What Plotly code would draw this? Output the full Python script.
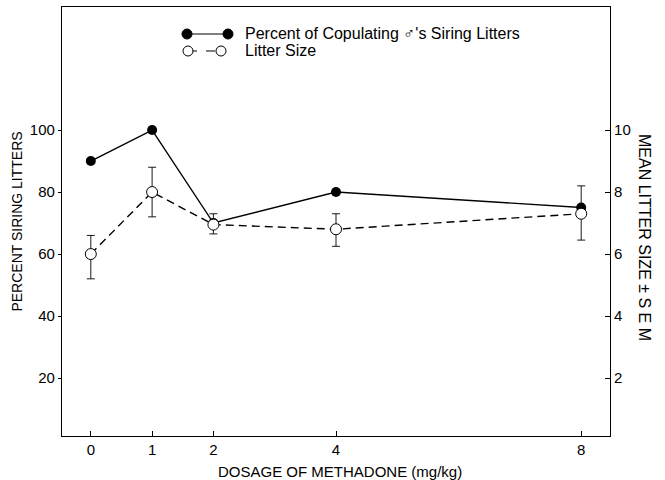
import plotly.graph_objects as go

dosage = [0, 1, 2, 4, 8]
percent_siring = [90, 100, 70, 80, 75]
litter_size = [6.0, 8.0, 6.95, 6.8, 7.3]
litter_err_plus = [0.6, 0.8, 0.35, 0.5, 0.9]
litter_err_minus = [0.8, 0.8, 0.3, 0.55, 0.85]

left_ticks = [20, 40, 60, 80, 100]
right_ticks = [2, 4, 6, 8, 10]
x_ticks = [0, 1, 2, 4, 8]

FONT = "Liberation Sans, Arial, Helvetica, sans-serif"
yr = [1.3, 139.7]

# plot area in page pixels
L, R, T, B = 62, 610, 7, 436
PW, PH = R - L, B - T

def px(x):
    return (x - L) / PW

def py(y):
    return (B - y) / PH

fig = go.Figure()

fig.add_trace(go.Scatter(
    x=dosage, y=litter_size, yaxis="y2", mode="lines+markers",
    line=dict(color="black", width=1.4, dash="8px,5px"),
    marker=dict(symbol="circle", size=11, color="white", line=dict(color="black", width=1)),
    error_y=dict(type="data", symmetric=False, array=litter_err_plus, arrayminus=litter_err_minus,
                 color="black", thickness=0.9, width=4),
    showlegend=False, cliponaxis=False,
))
fig.add_trace(go.Scatter(
    x=dosage, y=percent_siring, mode="lines+markers",
    line=dict(color="black", width=1.4),
    marker=dict(symbol="circle", size=10, color="black"),
    showlegend=False, cliponaxis=False,
))

# Legend drawn with shapes/annotations
shapes = []
annotations = []
leg = [(34, "solid", "black", "Percent of Copulating \u2642's Siring Litters", 187, 228),
       (51, "dash", "white", "Litter Size", 188, 221)]
for y, dash, fill, text, x0, x1 in leg:
    shapes.append(dict(type="line", xref="paper", yref="paper",
                       x0=px(x0), x1=px(x1), y0=py(y), y1=py(y),
                       line=dict(color="black", width=1.2, dash=dash)))
    for xc in (x0, x1):
        r = 5
        shapes.append(dict(type="circle", xref="paper", yref="paper",
                           x0=px(xc - r), x1=px(xc + r), y0=py(y + r), y1=py(y - r),
                           fillcolor=fill, line=dict(color="black", width=1)))
    annotations.append(dict(xref="paper", yref="paper", x=px(243), y=py(y),
                            text=text, showarrow=False, xanchor="left", yanchor="middle",
                            font=dict(family=FONT, size=16, color="black")))

annotations.append(dict(xref="paper", yref="paper", x=px(645), y=py(237),
                        text="MEAN LITTER SIZE \u00b1 S E M", textangle=90,
                        showarrow=False, xanchor="center", yanchor="middle",
                        font=dict(family=FONT, size=16, color="black")))
annotations.append(dict(xref="paper", yref="paper", x=px(340), y=py(471),
                        text="DOSAGE OF METHADONE (mg/kg)", showarrow=False,
                        xanchor="center", yanchor="middle",
                        font=dict(family=FONT, size=15, color="black")))

fig.update_layout(
    width=665, height=480,
    margin=dict(l=L, r=665 - R, t=T, b=480 - B),
    paper_bgcolor="white", plot_bgcolor="white",
    font=dict(family=FONT, size=15, color="black"),
    shapes=shapes, annotations=annotations,
    xaxis=dict(range=[-0.47, 8.47], tickvals=x_ticks, ticktext=[str(v) for v in x_ticks],
               ticks="inside", ticklen=5, tickcolor="black", showgrid=False, zeroline=False,
               showline=True, linecolor="black", linewidth=1.2, mirror=True),
    yaxis=dict(range=yr, tickvals=left_ticks, ticks="outside", ticklen=3, tickcolor="black",
               showgrid=False, zeroline=False, showline=True, linecolor="black", linewidth=1.2,
               title=dict(text="PERCENT SIRING LITTERS", font=dict(family=FONT, size=14), standoff=3)),
    yaxis2=dict(range=[yr[0] / 10, yr[1] / 10], tickvals=right_ticks, overlaying="y", side="right",
                ticks="inside", ticklen=5, tickcolor="black", showgrid=False, zeroline=False,
                showline=True, linecolor="black", linewidth=1.2),
)

fig.write_html("out.html", config={"displayModeBar": False},
               post_script="document.body.style.margin='0';")
